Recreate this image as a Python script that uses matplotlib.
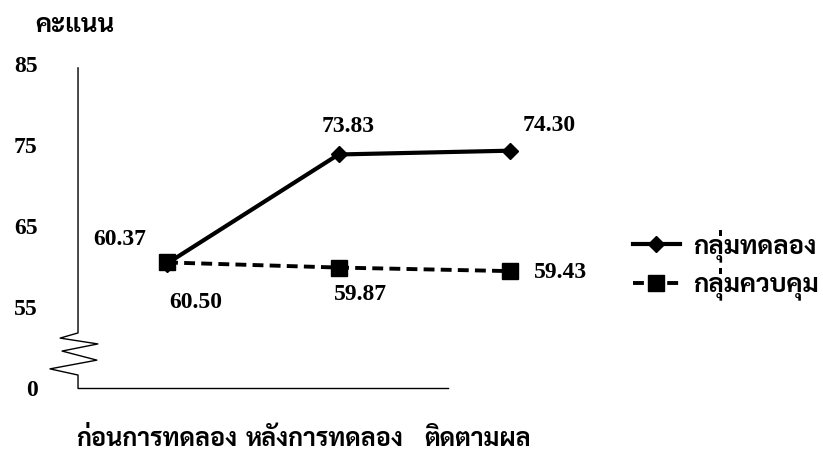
import matplotlib
matplotlib.use("Agg")
import matplotlib.pyplot as plt
from matplotlib.lines import Line2D

# ---- data ----
categories = ["ก่อนการทดลอง", "หลังการทดลอง", "ติดตามผล"]
experimental = [60.37, 73.83, 74.30]
control = [60.50, 59.87, 59.43]
series_names = ["กลุ่มทดลอง", "กลุ่มควบคุม"]
ytick_values = [45, 55, 65, 75, 85]
ytick_labels = ["0", "55", "65", "75", "85"]
ylabel_text = "คะแนน"

THAI = ["Sarabun", "DejaVu Sans"]
NUM = ["Liberation Serif", "DejaVu Serif"]

fig = plt.figure(figsize=(8.23, 4.53), dpi=100)
ax = fig.add_axes([0.0948, 0.1435, 0.5875, 0.7152])

x = list(range(len(categories)))
ax.plot(x, experimental, color="black", lw=3.0, marker="D", markersize=8.5,
        markerfacecolor="black", markeredgecolor="black", zorder=3)
ax.plot(x, control, color="black", lw=2.8, ls=(0, (2.8, 1.6)), marker="s",
        markersize=11, markerfacecolor="black", markeredgecolor="black", zorder=3)

ax.set_xlim(-0.519, 2.3)
ax.set_ylim(45, 85)

# value labels
exp_off = [(-34, 17.6), (7, 20.5), (28, 17.8)]
ctl_off = [(21, -29), (15.5, -19.7), (36, -0.7)]
for xi, v, off in zip(x, experimental, exp_off):
    ax.annotate(f"{v:.2f}", (xi, v), xytext=off, textcoords="offset points",
                ha="center", va="center", fontsize=17, fontweight="bold", family=NUM)
for xi, v, off in zip(x, control, ctl_off):
    ax.annotate(f"{v:.2f}", (xi, v), xytext=off, textcoords="offset points",
                ha="center", va="center", fontsize=17, fontweight="bold", family=NUM)

# axes styling
for s in ["top", "right", "left"]:
    ax.spines[s].set_visible(False)
ax.spines["bottom"].set_bounds(-0.519, 1.64)
ax.spines["bottom"].set_linewidth(1.0)

# left axis with break (zigzag)
zx = [0, 0, -0.037, 0.041, -0.033, 0.039, -0.058, 0, 0]
zy = [0.988, 0.170, 0.154, 0.136, 0.114, 0.086, 0.059, 0.040, 0]
ax.add_line(Line2D(zx, zy, transform=ax.transAxes, color="black", lw=1.0,
                   clip_on=False))

ax.set_yticks(ytick_values)
ax.set_yticklabels(ytick_labels, fontsize=17, fontweight="bold", family=NUM)
ax.tick_params(axis="y", length=0, pad=29)

xtick_pos = [-0.058, 0.921, 1.81]
ax.set_xticks(xtick_pos)
ax.set_xticklabels(categories, fontsize=18, fontweight="bold", family=THAI)
ax.tick_params(axis="x", length=0, pad=29)

fig.text(0.091, 0.942, ylabel_text, fontsize=18.5, fontweight="bold",
         family=THAI, ha="center", va="center")

handles = [
    Line2D([], [], color="black", lw=3.0, marker="D", markersize=8.5),
    Line2D([], [], color="black", lw=2.8, ls=(0, (2.8, 1.6)), marker="s", markersize=11),
]
leg = fig.legend(handles, series_names, loc="center left",
                 bbox_to_anchor=(0.769, 0.416), frameon=False,
                 prop={"family": THAI, "size": 18.5, "weight": "bold"},
                 handlelength=1.83, handletextpad=0.5, labelspacing=0.23,
                 borderaxespad=0, borderpad=0)

fig.savefig("out.png", dpi=100)
